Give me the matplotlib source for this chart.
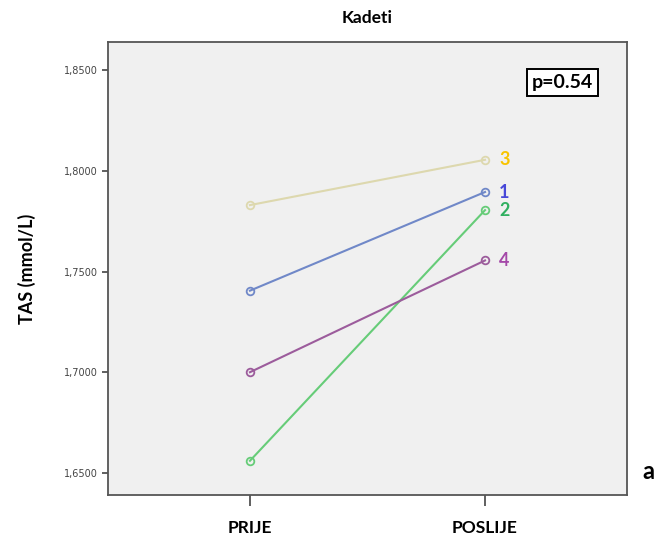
import matplotlib.pyplot as plt
from matplotlib.ticker import FuncFormatter

# data
groups = ['1', '2', '3', '4']
times = ['PRIJE', 'POSLIJE']
prije = [1.7405, 1.6560, 1.7830, 1.7000]
poslije = [1.7895, 1.7805, 1.8055, 1.7555]
line_colors = ['#7088c8', '#66cc78', '#ddd8ae', '#9c5c9c']
label_colors = ['#4848d8', '#30b060', '#f8c400', '#a448a8']

fig = plt.figure(figsize=(6.56, 5.38), dpi=100)
ax = fig.add_axes([0.1646, 0.0799, 0.7912, 0.842])
ax.set_facecolor('#f0f0f0')

x = [0, 1]
for i in range(len(groups)):
    ys = [prije[i], poslije[i]]
    ax.plot(x, ys, '-', color=line_colors[i], lw=1.5, marker='o', ms=5.5,
            mfc='none', mec=line_colors[i], mew=1.3)
    ax.text(1.06, poslije[i], groups[i], color=label_colors[i], fontsize=13,
            fontweight='bold', va='center', ha='left', family='Lato')

ax.set_xlim(-0.604, 1.604)
ax.set_ylim(1.639, 1.864)
ax.set_xticks(x)
ax.set_xticklabels(times, fontsize=12.5, fontweight='bold', family='Lato')
ax.set_yticks([1.65, 1.70, 1.75, 1.80, 1.85])
ax.yaxis.set_major_formatter(FuncFormatter(lambda v, p: ('%.4f' % v).replace('.', ',')))
ax.tick_params(axis='y', labelsize=7, labelcolor='#444444', length=4, width=1.2, color='#444444')
ax.tick_params(axis='x', length=8, width=1.2, color='#444444', pad=10)
for s in ax.spines.values():
    s.set_color('#555555')
    s.set_linewidth(1.3)

ax.set_ylabel('TAS (mmol/L)', fontsize=13, fontweight='bold', family='Lato', labelpad=20)
ax.set_title('Kadeti', fontsize=12.5, fontweight='bold', family='Lato', pad=14)

ax.text(0.875, 0.911, 'p=0.54', transform=ax.transAxes, fontsize=14, fontweight='bold',
        family='Lato', ha='center', va='center',
        bbox=dict(boxstyle='square,pad=0.25', fc='white', ec='black', lw=1.4))
fig.text(0.988, 0.123, 'a', fontsize=17, fontweight='bold', family='Lato', ha='center', va='center')

plt.savefig('out.png', dpi=100)
